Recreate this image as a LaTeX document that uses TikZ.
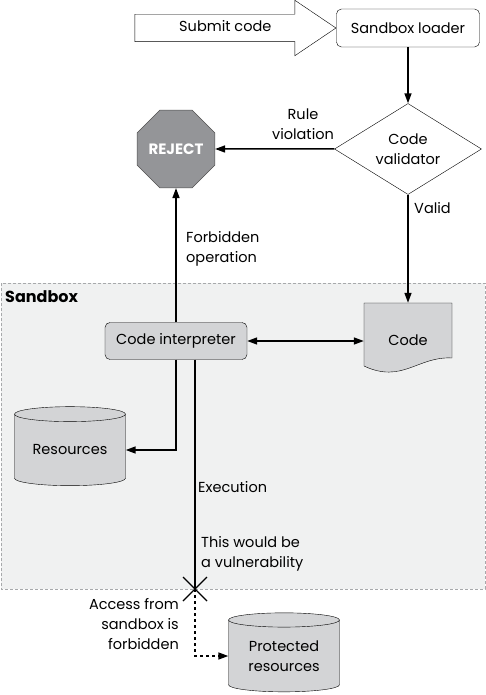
\documentclass[tikz,border=0pt]{standalone}
\usepackage{fontspec}
\setmainfont{Poppins}
\usetikzlibrary{shapes.geometric,shapes.arrows,arrows.meta}

\definecolor{partgray}{HTML}{D3D4D6}
\definecolor{sandgray}{HTML}{F0F1F1}
\definecolor{sandline}{HTML}{A7A9AB}
\definecolor{stopgray}{HTML}{949598}

\tikzset{
	flow/.style={line width=1.5pt,-{Triangle[length=10pt,width=7pt]}},
	box/.style={draw,rounded corners=5pt,minimum height=38pt,inner sep=0pt},
	store/.style={cylinder,shape border rotate=90,draw,fill=partgray,aspect=0.2,
		minimum width=111pt,minimum height=79pt,inner sep=0pt,align=center},
	txt/.style={align=left,inner sep=0pt}
}

\begin{document}
\begin{tikzpicture}[x=1pt,y=-1pt,font=\fontsize{14.5}{20}\selectfont]
	\useasboundingbox (0,0) rectangle (486,695);

	% sandbox area
	\draw[sandline,fill=sandgray,dash pattern=on 3pt off 2pt] (1,283) rectangle (485,589);
	\node at (5,297)[anchor=west,inner sep=0pt,font=\fontsize{16}{20}\bfseries]{Sandbox};

	\node (loader) at (408,28)[box,fill=white,minimum width=143pt]{Sandbox loader};
	\node (submit) at (loader.west)[single arrow,draw,fill=white,anchor=tip,
		minimum height=201pt,single arrow head extend=14pt,single arrow tip angle=68,
		text height=10pt,text depth=3pt,inner ysep=7pt]{Submit code};

	\node (validator) at (408,149)[diamond,draw,fill=white,aspect=1.6,inner sep=0pt,
		minimum width=147pt,minimum height=91pt,align=center]{Code\\validator};

	\node (reject) at (176,149)[regular polygon,regular polygon sides=8,draw=black!70,
		fill=stopgray,minimum size=79pt,inner sep=0pt,text=white,font=\fontsize{15}{15}\bfseries]{REJECT};

	\node (interp) at (176,341)[box,fill=partgray,minimum width=142pt,minimum height=37pt]{Code interpreter};

	% code sheet
	\draw[fill=partgray] (364,303) -- (452,303) -- (452,358)
		.. controls (418,356) and (402,384) .. (364,366) -- cycle;
	\node (code) at (408,340)[minimum width=88pt,minimum height=74pt,inner sep=0pt]{Code};

	\node (resources) at (70,450)[store]{Resources};
	\node (protected) at (284,656)[store]{Protected\\resources};

	\coordinate (cross) at (195,589);

	% labels
	\node at (303,124)[align=center,inner sep=0pt]{Rule\\violation};
	\node at (414,208)[txt,anchor=west]{Valid};
	\node at (186,249)[txt,anchor=west]{Forbidden\\operation};
	\node at (198,487)[txt,anchor=west]{Execution};
	\node at (201,554)[txt,anchor=west]{This would be\\a vulnerability};
	\node at (179,624)[txt,anchor=east,align=right]{Access from\\sandbox is\\forbidden};

	% connectors
	\draw[flow] (loader) -- (validator);
	\draw[flow] (validator) -- (reject);
	\draw[flow] (validator) -- (code);
	\draw[flow,{Triangle[length=10pt,width=7pt]}-{Triangle[length=10pt,width=7pt]}]
		(interp.east) -- (interp.east -| code.west);
	\draw[flow] (interp) -- (reject);
	\draw[flow] (interp.south) |- (resources.east);
	\draw[line width=1.5pt] (interp.south -| cross) -- (cross);
	\draw[line width=1.3pt] (cross) +(-12,-12) -- +(12,12) (cross) +(-12,12) -- +(12,-12);
	\draw[flow,dash pattern=on 3pt off 3pt] (cross) |- (protected.west);
\end{tikzpicture}
\end{document}
